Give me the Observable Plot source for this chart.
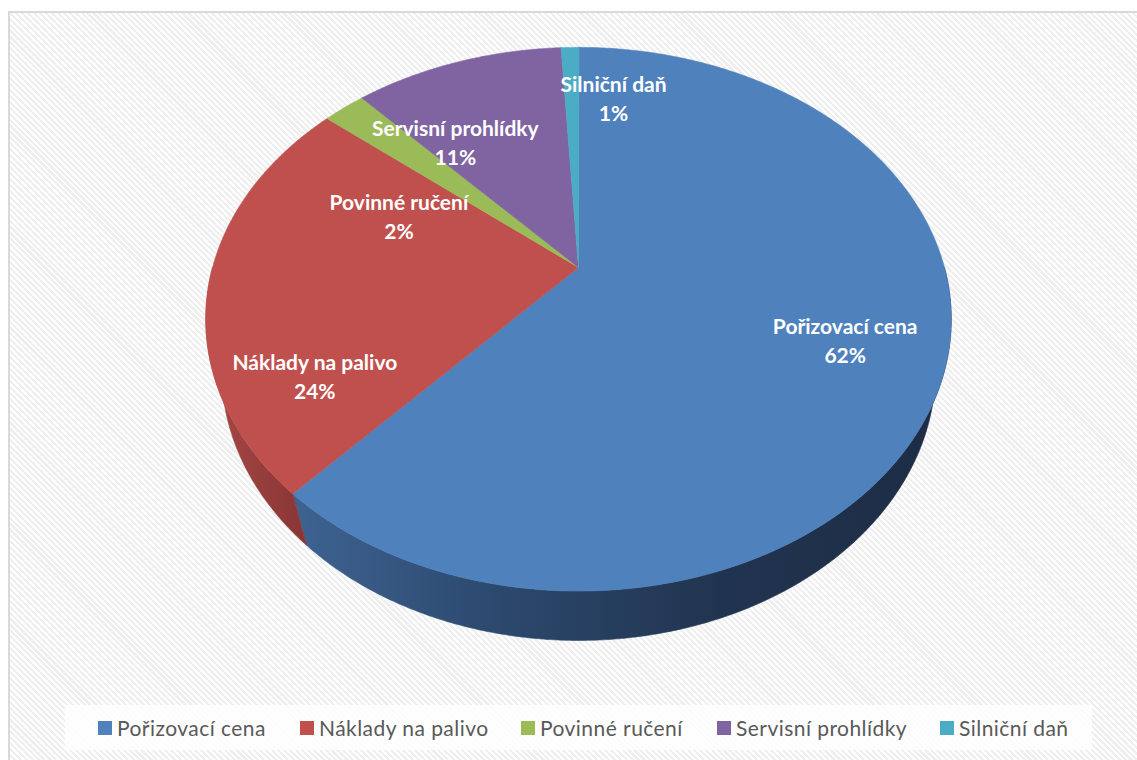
<!DOCTYPE html>
<html><head><meta charset="utf-8">
<script src="https://cdn.jsdelivr.net/npm/d3@7"></script>
<script src="https://cdn.jsdelivr.net/npm/@observablehq/plot@0.6"></script>
<style>
body{margin:0;width:1137px;height:760px;overflow:hidden;background:#fff;font-family:Lato,"Open Sans",sans-serif;position:relative;}
#frame{position:absolute;left:8px;top:11px;width:1200px;height:800px;border-left:2px solid #d9d9d9;border-top:2px solid #d9d9d9;background:repeating-linear-gradient(45deg,#ffffff 0 2px,#efefef 2px 4.2px);}
#chart{position:absolute;left:0;top:0;}
#legend{position:absolute;left:65px;top:705px;width:1027px;height:45px;background:rgba(255,255,255,0.78);}
.item{position:absolute;top:0;height:45px;display:flex;align-items:center;color:#595959;font-size:21px;letter-spacing:0.45px;font-family:Lato,sans-serif;}
.sw{width:14px;height:14px;margin-right:5px;}
</style></head>
<body>
<div id="frame"></div>
<div id="chart"></div>
<div id="legend"></div>
<script>
// ---- data ----
const categories = ["Pořizovací cena", "Náklady na palivo", "Povinné ručení", "Servisní prohlídky", "Silniční daň"];
const shares = [61.7, 24.3, 2.2, 10.9, 0.9];
// ---- styles ----
const palette = ["#4f81bd", "#c0504d", "#9bbb59", "#8064a2", "#4bacc6"];
const wallStops = [
  [["0", "#3e6391"], ["0.3", "#2c496e"], ["0.65", "#21344f"], ["1", "#1d2c45"]],
  [["0", "#a84846"], ["1", "#873535"]]
];
// label placement on the pie (angle in degrees clockwise from top, radius fraction)
const labelPlacement = [[110.6, 0.74], [240.2, 0.77], [292, 0.55], [325, 0.646], [8.4, 0.748]];
// legend item left offsets inside the legend box
const legendOffsets = [33, 235, 456, 652, 875];

// ---- 3D projection model ----
const W = 1137, H = 700;
const cx = 578, cy = 267, K = 1343, R = 3.67, s = 0.716, c = 0.698, depthH = 0.219;
function proj(X, Y, Z) {
  const d = R - Y * c - Z * s;
  return {x: cx + K * X / d, y: cy + K * (Y * s - Z * c) / d};
}
function pt(angDeg, r, Z) {
  const a = angDeg * Math.PI / 180;
  return proj(r * Math.sin(a), -r * Math.cos(a), Z);
}
function arc(a0, a1, Z) {
  const n = Math.max(2, Math.ceil(Math.abs(a1 - a0) / 0.5));
  const out = [];
  for (let i = 0; i <= n; i++) out.push(pt(a0 + (a1 - a0) * i / n, 1, Z));
  return out;
}

const total = d3.sum(shares);
let acc = 0;
const slices = shares.map((v, i) => {
  const a0 = acc / total * 360; acc += v;
  const a1 = acc / total * 360;
  return {i, a0, a1, v};
});

const tops = slices.map(sl => [proj(0, 0, 0), ...arc(sl.a0, sl.a1, 0)]);
const walls = [];
slices.forEach(sl => {
  const lo = Math.max(sl.a0, 90), hi = Math.min(sl.a1, 270);
  if (lo < hi) walls.push({i: sl.i, pts: [...arc(lo, hi, 0), ...arc(hi, lo, -depthH)]});
});
const shadowPts = arc(0, 360, -depthH).map(p => ({x: p.x, y: p.y + 4}));

const labelRows = slices.map(sl => {
  const [ang, r] = labelPlacement[sl.i];
  const p = pt(ang, r, 0);
  return {x: p.x, y: p.y, text: categories[sl.i] + "\n" + Math.round(sl.v / total * 100) + "%"};
});

const lineOpts = {x: "x", y: "y", curve: "linear-closed"};
const plot = Plot.plot({
  width: W, height: H, margin: 0,
  style: {background: "transparent", overflow: "visible"},
  x: {type: "linear", domain: [0, W], range: [0, W], axis: null},
  y: {type: "linear", domain: [0, H], range: [0, H], axis: null},
  marks: [
    Plot.line(shadowPts, {...lineOpts, fill: "#000", fillOpacity: 0.35, stroke: "none", ariaLabel: "shadow"}),
    ...walls.map(w => Plot.line(w.pts, {...lineOpts, fill: `url(#wall${w.i})`, stroke: `url(#wall${w.i})`, strokeWidth: 0.6})),
    ...tops.map((t, i) => Plot.line(t, {...lineOpts, fill: palette[i], stroke: palette[i], strokeWidth: 0.6})),
    Plot.text(labelRows, {x: "x", y: "y", text: "text", fill: "white", fontWeight: "bold", fontSize: 21, fontFamily: "Lato", lineHeight: 1.38, textAnchor: "middle", ariaLabel: "labels"})
  ]
});

// defs: gradients for walls and blur for shadow
const svg = d3.select(plot);
const defs = svg.insert("defs", ":first-child");
wallStops.forEach((stops, i) => {
  const g = defs.append("linearGradient").attr("id", "wall" + i).attr("gradientUnits", "userSpaceOnUse")
    .attr("x1", i === 0 ? 295 : 205).attr("x2", i === 0 ? 950 : 310).attr("y1", 0).attr("y2", 0);
  stops.forEach(([o, col]) => g.append("stop").attr("offset", o).attr("stop-color", col));
});
defs.append("filter").attr("id", "blur").attr("x", "-10%").attr("y", "-10%").attr("width", "120%").attr("height", "120%")
  .append("feGaussianBlur").attr("stdDeviation", 4);
svg.select('g[aria-label="shadow"]').attr("filter", "url(#blur)");
svg.select('g[aria-label="labels"]').style("letter-spacing", "0.4px");

document.getElementById("chart").appendChild(plot);

// legend
const leg = d3.select("#legend");
categories.forEach((name, i) => {
  const it = leg.append("div").attr("class", "item").style("left", legendOffsets[i] + "px");
  it.append("div").attr("class", "sw").style("background", palette[i]);
  it.append("span").text(name);
});
</script>
</body></html>
